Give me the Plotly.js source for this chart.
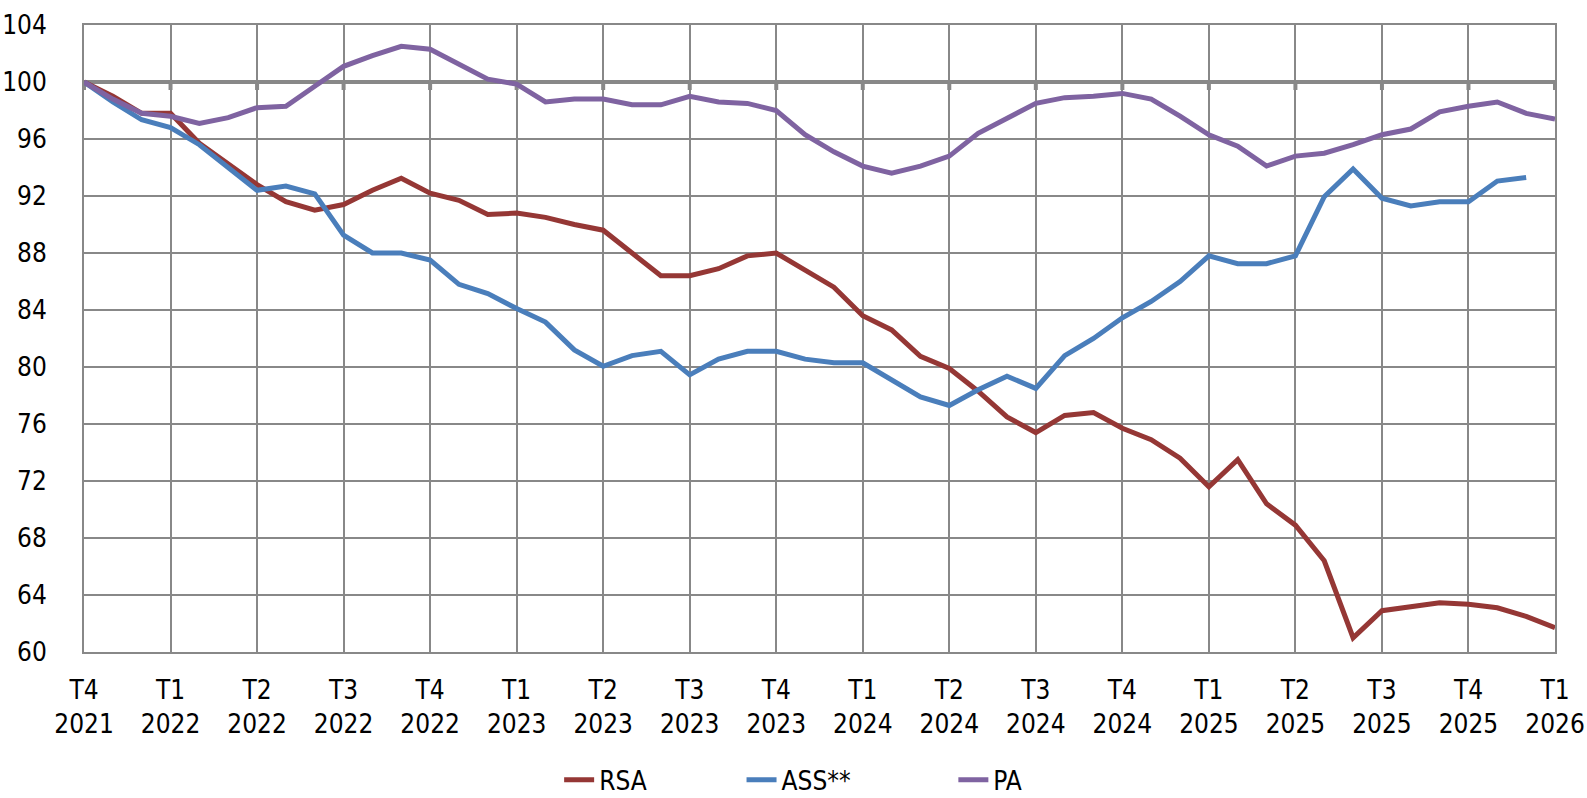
<!DOCTYPE html>
<html><head><meta charset="utf-8">
<script src="https://cdn.plot.ly/plotly-3.0.1.min.js"></script>
<style>html,body{margin:0;padding:0;background:#fff}#chart{width:1587px;height:798px}</style>
</head><body><div id="chart"></div>
<script>
const months = ["2021-12",
 "2022-01","2022-02","2022-03","2022-04","2022-05","2022-06","2022-07","2022-08","2022-09","2022-10","2022-11","2022-12",
 "2023-01","2023-02","2023-03","2023-04","2023-05","2023-06","2023-07","2023-08","2023-09","2023-10","2023-11","2023-12",
 "2024-01","2024-02","2024-03","2024-04","2024-05","2024-06","2024-07","2024-08","2024-09","2024-10","2024-11","2024-12",
 "2025-01","2025-02","2025-03","2025-04","2025-05","2025-06","2025-07","2025-08","2025-09","2025-10","2025-11","2025-12",
 "2026-01","2026-02","2026-03"];

const tickMonths = ["2021-12","2022-03","2022-06","2022-09","2022-12","2023-03","2023-06","2023-09","2023-12",
 "2024-03","2024-06","2024-09","2024-12","2025-03","2025-06","2025-09","2025-12","2026-03"];
const tickLabels = ["T4<br>2021","T1<br>2022","T2<br>2022","T3<br>2022","T4<br>2022","T1<br>2023","T2<br>2023","T3<br>2023","T4<br>2023",
 "T1<br>2024","T2<br>2024","T3<br>2024","T4<br>2024","T1<br>2025","T2<br>2025","T3<br>2025","T4<br>2025","T1<br>2026"];

const rsa = [100, 99.0, 97.8, 97.8, 95.7, 94.3, 92.8, 91.6, 91.0, 91.4,
 92.4, 93.25, 92.2, 91.7, 90.7, 90.8, 90.5, 90.0, 89.6, 88.0,
 86.4, 86.4, 86.9, 87.8, 88.0, 86.8, 85.6, 83.6, 82.6, 80.75,
 79.9, 78.3, 76.5, 75.4, 76.6, 76.8, 75.7, 74.9, 73.6, 71.6,
 73.5, 70.4, 68.9, 66.4, 61.0, 62.9, 63.2, 63.45, 63.35, 63.1,
 62.5, 61.7];
const ass = [100, 98.6, 97.35, 96.8, 95.6, 93.95, 92.4, 92.7, 92.15, 89.25,
 88.0, 88.0, 87.5, 85.8, 85.15, 84.1, 83.15, 81.2, 80.05, 80.8,
 81.1, 79.45, 80.55, 81.1, 81.1, 80.55, 80.3, 80.3, 79.05, 77.9,
 77.3, 78.4, 79.35, 78.5, 80.8, 82.0, 83.45, 84.6, 86.0, 87.8,
 87.25, 87.25, 87.8, 91.95, 93.9, 91.85, 91.3, 91.6, 91.6, 93.05,
 93.3, null];
const pa = [100, 98.8, 97.8, 97.6, 97.1, 97.5, 98.2, 98.3, 99.7, 101.1,
 101.85, 102.5, 102.3, 101.2, 100.2, 99.85, 98.6, 98.8, 98.8, 98.4,
 98.4, 99.0, 98.6, 98.5, 98.0, 96.3, 95.1, 94.1, 93.6, 94.1,
 94.8, 96.4, 97.5, 98.5, 98.9, 99.0, 99.2, 98.8, 97.6, 96.3,
 95.5, 94.1, 94.8, 95.0, 95.6, 96.3, 96.7, 97.9, 98.3, 98.6,
 97.8, 97.4];

const seriesNames = ["RSA", "ASS**", "PA"];
const seriesColors = ["#953735", "#4A7EBB", "#7F63A1"];
const yTicks = [60, 64, 68, 72, 76, 80, 84, 88, 92, 96, 100, 104];
const baseValue = 100;

const FONT = "'Liberation Sans Narrow', 'DejaVu Sans Condensed', 'Liberation Sans', sans-serif";
const GRID = "#888888";
const legendIds = ["legend", "legend2", "legend3"];
const legendX = [0.323, 0.447, 0.591];

const traces = [rsa, ass, pa].map((vals, k) => ({
  type: "scatter", mode: "lines",
  x: months, y: vals, name: seriesNames[k],
  line: {color: seriesColors[k], width: 5},
  legend: legendIds[k],
  connectgaps: false
}));

const shapes = [{
  type: "line", xref: "paper", x0: 0, x1: 1, yref: "y", y0: baseValue, y1: baseValue,
  line: {color: GRID, width: 4}, layer: "between"
}];
tickMonths.forEach(m => shapes.push({
  type: "line", xref: "x", x0: m, x1: m, yref: "y", ysizemode: "pixel", yanchor: baseValue,
  y0: 0, y1: -8, line: {color: GRID, width: 4}, layer: "between"
}));

const layout = {
  width: 1587, height: 798,
  margin: {l: 84, r: 32, t: 25, b: 146, autoexpand: false},
  paper_bgcolor: "#ffffff", plot_bgcolor: "#ffffff",
  font: {family: FONT, size: 26, color: "#000000"},
  showlegend: true,
  xaxis: {
    type: "category", categoryorder: "array", categoryarray: months,
    range: [0, months.length - 1],
    tickmode: "array", tickvals: tickMonths, ticktext: tickLabels,
    showgrid: true, gridcolor: GRID, gridwidth: 2,
    showline: true, linecolor: GRID, linewidth: 2, mirror: true,
    ticks: "", ticklabelstandoff: 14, zeroline: false,
    tickfont: {family: FONT, size: 26}
  },
  yaxis: {
    range: [60, 104], tickmode: "array", tickvals: yTicks,
    showgrid: true, gridcolor: GRID, gridwidth: 2,
    showline: true, linecolor: GRID, linewidth: 2, mirror: true,
    ticks: "", ticklabelstandoff: 30, zeroline: false,
    tickfont: {family: FONT, size: 26}
  },
  shapes: shapes
};
legendIds.forEach((id, k) => {
  layout[id] = {orientation: "h", x: legendX[k], xanchor: "left", y: -0.204, yanchor: "middle",
                bgcolor: "rgba(0,0,0,0)", font: {family: FONT, size: 26, color: "#000"}};
});

Plotly.newPlot("chart", traces, layout, {displayModeBar: false, staticPlot: true});
</script>
</body></html>
